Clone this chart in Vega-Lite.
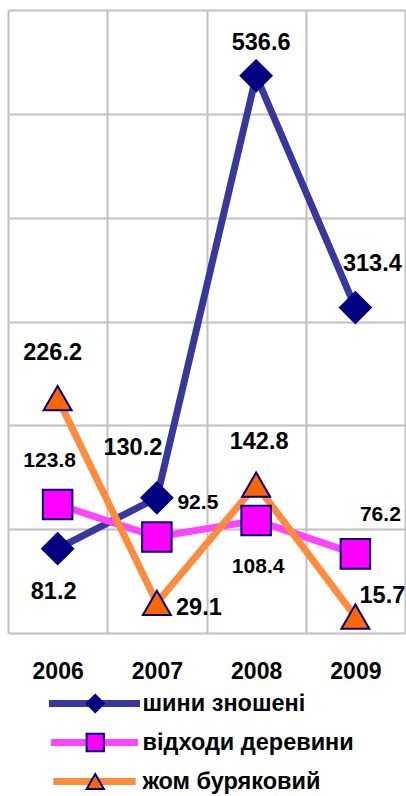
{
  "$schema": "https://vega.github.io/schema/vega-lite/v6.json",
  "width": 397,
  "height": 623,
  "autosize": {"type": "none"},
  "padding": {"left": 8, "top": 10, "right": 1, "bottom": 163},
  "background": "white",
  "config": {"view": {"stroke": null}, "font": "Liberation Sans"},
  "data": {"values": [
    {"series": "шини зношені", "year": "2006", "value": 81.2},
    {"series": "шини зношені", "year": "2007", "value": 130.2},
    {"series": "шини зношені", "year": "2008", "value": 536.6},
    {"series": "шини зношені", "year": "2009", "value": 313.4},
    {"series": "відходи деревини", "year": "2006", "value": 123.8},
    {"series": "відходи деревини", "year": "2007", "value": 92.5},
    {"series": "відходи деревини", "year": "2008", "value": 108.4},
    {"series": "відходи деревини", "year": "2009", "value": 76.2},
    {"series": "жом буряковий", "year": "2006", "value": 226.2},
    {"series": "жом буряковий", "year": "2007", "value": 29.1},
    {"series": "жом буряковий", "year": "2008", "value": 142.8},
    {"series": "жом буряковий", "year": "2009", "value": 15.7}
  ]},
  "encoding": {
    "x": {"field": "year", "type": "ordinal",
      "scale": {"type": "band", "paddingInner": 0, "paddingOuter": 0},
      "axis": {"title": null, "tickBand": "extent", "grid": true, "gridColor": "#c0c0c0", "gridWidth": 2,
        "ticks": false, "domain": false, "labelAngle": 0, "labelFont": "Liberation Sans", "labelFontWeight": "bold",
        "labelFontSize": 23, "labelColor": "#000000", "labelPadding": 27}},
    "y": {"field": "value", "type": "quantitative",
      "scale": {"domain": [0, 600], "nice": false},
      "axis": {"title": null, "labels": false, "ticks": false, "domain": false, "grid": true,
        "gridColor": "#c0c0c0", "gridWidth": 2, "values": [0, 100, 200, 300, 400, 500, 600]}}
  },
  "layer": [
    {
      "mark": {"type": "line"},
      "encoding": {
        "detail": {"field": "series"},
        "stroke": {"field": "series", "type": "nominal",
          "scale": {"domain": ["шини зношені", "відходи деревини", "жом буряковий"], "range": ["#38389c", "#ff44ff", "#ff8b3d"]},
          "legend": {"title": null, "orient": "none", "legendX": 37, "legendY": 682.5, "padding": 0,
            "symbolType": "M-2.94,0H2.94", "symbolSize": 169, "symbolStrokeWidth": 9, "symbolOffset": 30.5,
            "labelFont": "Liberation Sans", "clipHeight": 22,
            "labelFontWeight": "bold", "labelFontSize": 23.5, "labelColor": "#000000", "labelOffset": 29,
            "rowPadding": 15, "labelLimit": 300}},
        "strokeWidth": {"field": "series", "type": "nominal",
          "scale": {"domain": ["шини зношені", "відходи деревини", "жом буряковий"], "range": [7, 7, 6]}, "legend": null}
      }
    },
    {
      "mark": {"type": "point", "filled": true, "opacity": 1, "stroke": "#000080", "strokeWidth": 2},
      "encoding": {
        "color": {"field": "series", "type": "nominal",
          "scale": {"domain": ["шини зношені", "відходи деревини", "жом буряковий", "-"], "range": ["#000080", "#ff00ff", "#ff6600", "#ffffff"]},
          "legend": {"title": null, "orient": "none", "legendX": 75.5, "legendY": 682.5, "padding": 0,
            "values": ["шини зношені", "відходи деревини", "жом буряковий"],
            "symbolSize": 300, "symbolStrokeColor": "#000080", "symbolStrokeWidth": 2, "labelFontSize": 23.5,
            "labelFontWeight": "bold", "clipHeight": 22, "labelExpr": "''",
            "labelOpacity": 0, "rowPadding": 15, "labelLimit": 300}},
        "shape": {"field": "series", "type": "nominal",
          "scale": {"domain": ["шини зношені", "відходи деревини", "жом буряковий", "-"], "range": ["diamond", "square", "triangle-up", "circle"]},
          "legend": {"title": null, "orient": "none", "legendX": 75.5, "legendY": 682.5, "padding": 0,
            "values": ["шини зношені", "відходи деревини", "жом буряковий"],
            "symbolSize": 300, "symbolStrokeColor": "#000080", "symbolStrokeWidth": 2, "labelFontSize": 23.5,
            "labelFontWeight": "bold", "clipHeight": 22, "labelExpr": "''",
            "labelOpacity": 0, "rowPadding": 15, "labelLimit": 300}},
        "size": {"field": "series", "type": "nominal",
          "scale": {"domain": ["шини зношені", "відходи деревини", "жом буряковий"], "range": [960, 784, 900]}, "legend": null}
      }
    },
    {"transform": [{"filter": "datum.series==='шини зношені' && datum.year==='2006'"}],
     "mark": {"type": "text", "dx": -4, "dy": 43, "fontSize": 23.5, "fontWeight": "bold", "color": "#000000", "baseline": "middle", "align": "center"},
     "encoding": {"text": {"field": "value", "type": "quantitative", "format": ".1f"}}},
    {"transform": [{"filter": "datum.series==='шини зношені' && datum.year==='2007'"}],
     "mark": {"type": "text", "dx": -24, "dy": -50, "fontSize": 23.5, "fontWeight": "bold", "color": "#000000", "baseline": "middle", "align": "center"},
     "encoding": {"text": {"field": "value", "type": "quantitative", "format": ".1f"}}},
    {"transform": [{"filter": "datum.series==='шини зношені' && datum.year==='2008'"}],
     "mark": {"type": "text", "dx": 5, "dy": -33, "fontSize": 23.5, "fontWeight": "bold", "color": "#000000", "baseline": "middle", "align": "center"},
     "encoding": {"text": {"field": "value", "type": "quantitative", "format": ".1f"}}},
    {"transform": [{"filter": "datum.series==='шини зношені' && datum.year==='2009'"}],
     "mark": {"type": "text", "dx": 17, "dy": -44, "fontSize": 23.5, "fontWeight": "bold", "color": "#000000", "baseline": "middle", "align": "center"},
     "encoding": {"text": {"field": "value", "type": "quantitative", "format": ".1f"}}},
    {"transform": [{"filter": "datum.series==='відходи деревини' && datum.year==='2006'"}],
     "mark": {"type": "text", "dx": -8, "dy": -43, "fontSize": 21, "fontWeight": "bold", "color": "#000000", "baseline": "middle", "align": "center"},
     "encoding": {"text": {"field": "value", "type": "quantitative", "format": ".1f"}}},
    {"transform": [{"filter": "datum.series==='відходи деревини' && datum.year==='2007'"}],
     "mark": {"type": "text", "dx": 41, "dy": -34, "fontSize": 21, "fontWeight": "bold", "color": "#000000", "baseline": "middle", "align": "center"},
     "encoding": {"text": {"field": "value", "type": "quantitative", "format": ".1f"}}},
    {"transform": [{"filter": "datum.series==='відходи деревини' && datum.year==='2008'"}],
     "mark": {"type": "text", "dx": 2, "dy": 47, "fontSize": 21, "fontWeight": "bold", "color": "#000000", "baseline": "middle", "align": "center"},
     "encoding": {"text": {"field": "value", "type": "quantitative", "format": ".1f"}}},
    {"transform": [{"filter": "datum.series==='відходи деревини' && datum.year==='2009'"}],
     "mark": {"type": "text", "dx": 25, "dy": -39, "fontSize": 21, "fontWeight": "bold", "color": "#000000", "baseline": "middle", "align": "center"},
     "encoding": {"text": {"field": "value", "type": "quantitative", "format": ".1f"}}},
    {"transform": [{"filter": "datum.series==='жом буряковий' && datum.year==='2006'"}],
     "mark": {"type": "text", "dx": -5, "dy": -45, "fontSize": 23.5, "fontWeight": "bold", "color": "#000000", "baseline": "middle", "align": "center"},
     "encoding": {"text": {"field": "value", "type": "quantitative", "format": ".1f"}}},
    {"transform": [{"filter": "datum.series==='жом буряковий' && datum.year==='2007'"}],
     "mark": {"type": "text", "dx": 42, "dy": 5, "fontSize": 23.5, "fontWeight": "bold", "color": "#000000", "baseline": "middle", "align": "center"},
     "encoding": {"text": {"field": "value", "type": "quantitative", "format": ".1f"}}},
    {"transform": [{"filter": "datum.series==='жом буряковий' && datum.year==='2008'"}],
     "mark": {"type": "text", "dx": 3, "dy": -43, "fontSize": 23.5, "fontWeight": "bold", "color": "#000000", "baseline": "middle", "align": "center"},
     "encoding": {"text": {"field": "value", "type": "quantitative", "format": ".1f"}}},
    {"transform": [{"filter": "datum.series==='жом буряковий' && datum.year==='2009'"}],
     "mark": {"type": "text", "dx": 27, "dy": -21, "fontSize": 23.5, "fontWeight": "bold", "color": "#000000", "baseline": "middle", "align": "center"},
     "encoding": {"text": {"field": "value", "type": "quantitative", "format": ".1f"}}}
  ]
}
